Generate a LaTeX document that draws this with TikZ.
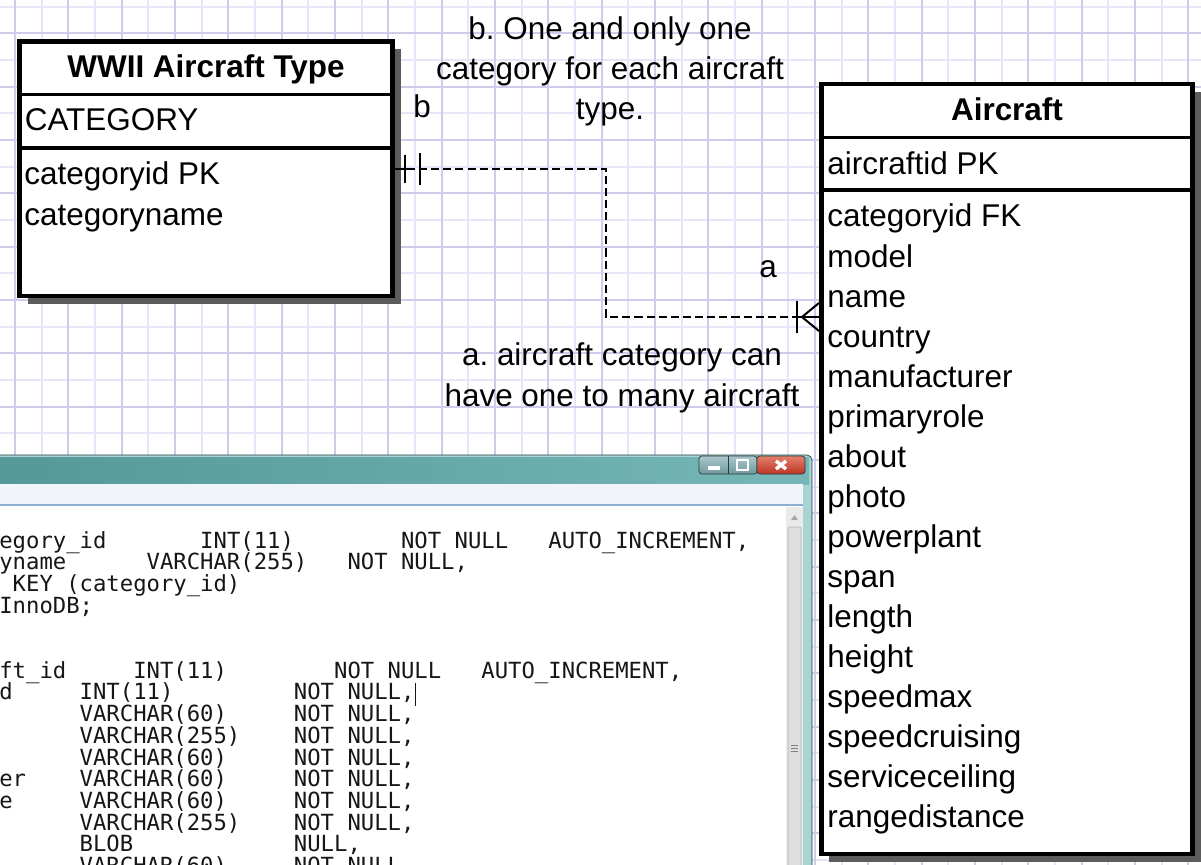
\documentclass[tikz,border=0pt]{standalone}
\usepackage{fontspec}
\setmainfont{Liberation Sans}
\newfontfamily\sqlfont{DejaVu Sans Mono}
\usetikzlibrary{positioning,calc,shadows}
\frenchspacing

\newdimen\px
\px=0.02cm

\definecolor{gridmajor}{RGB}{206,204,237}
\definecolor{gridminor}{RGB}{230,230,248}
\definecolor{boxshadow}{RGB}{92,92,92}
\definecolor{winframe}{RGB}{168,212,212}
\definecolor{wintitletop}{RGB}{118,182,182}
\definecolor{wintitlebottom}{RGB}{84,152,154}
\definecolor{winedge}{RGB}{40,60,62}
\definecolor{winbar}{RGB}{241,245,250}
\definecolor{winbarline}{RGB}{140,175,210}
\definecolor{scrolltrack}{RGB}{234,234,234}
\definecolor{scrollthumb}{RGB}{222,222,222}
\definecolor{closetop}{RGB}{226,128,108}
\definecolor{closebottom}{RGB}{192,52,36}
\definecolor{btntop}{RGB}{170,200,204}
\definecolor{btnbottom}{RGB}{112,152,158}
\definecolor{sqlink}{RGB}{22,22,22}

\newcommand\ersize{\fontsize{17.9pt}{22.8pt}\selectfont}
\newcommand\sqlsize{\fontsize{12.66pt}{12.3pt}\selectfont}

\tikzset{
  gridmajorline/.style={gridmajor, line width=1.2pt},
  gridminorline/.style={gridminor, line width=1pt},
  entity/.style={draw, line width=2.6pt, fill=white, inner sep=0pt,
    drop shadow={shadow xshift=8\px, shadow yshift=-8\px, fill=boxshadow, opacity=1}},
  separator/.style={line width=2pt},
  entitytitle/.style={anchor=base, inner sep=0pt, font=\ersize\bfseries},
  attr/.style={anchor=base west, inner sep=0pt, font=\ersize},
  note/.style={inner sep=0pt, align=center, font=\ersize},
  relline/.style={line width=1.15pt, dash pattern=on 4.6pt off 2.3pt},
  markline/.style={line width=1.15pt},
  sqlline/.style={anchor=base west, inner sep=0pt, font=\sqlfont\sqlsize, text=sqlink},
}

\begin{document}
\begin{tikzpicture}[x=\px, y=-\px]
    \useasboundingbox (0,0) rectangle (1201,865);
    \clip (0,0) rectangle (1201,865);

    \foreach \k in {0,...,22} {
        \draw[gridminorline] (41.667+53.333*\k,0) -- ++(0,865);
        \draw[gridminorline] (0,6.667+53.333*\k) -- ++(1201,0);
    }
    \foreach \k in {0,...,22} {
        \draw[gridmajorline] (15+53.333*\k,0) -- ++(0,865);
        \draw[gridmajorline] (0,33.333+53.333*\k) -- ++(1201,0);
    }

    \node[entity, minimum width=373\px, minimum height=254.5\px] at (206,168.75) (type) {};
    \node[entity, minimum width=371.5\px, minimum height=770\px] at (1007,469) (aircraft) {};

    \draw[separator] (type.west |- 0,94.5) -- (type.east |- 0,94.5);
    \draw[separator] (type.west |- 0,148) -- (type.east |- 0,148);
    \draw[separator] (aircraft.west |- 0,137.5) -- (aircraft.east |- 0,137.5);
    \draw[separator] (aircraft.west |- 0,190) -- (aircraft.east |- 0,190);

    \node[entitytitle] at (206,78) (typetitle) {WWII Aircraft Type};
    \node[attr] at (24.5,131) (typekey) {CATEGORY};
    \node[attr] at (24,185) (typeattr1) {categoryid PK};
    \node[attr] at (24,225) (typeattr2) {categoryname};

    \node[entitytitle] at (1007,121) (aircrafttitle) {Aircraft};
    \node[attr] at (827,174) (aircraftkey) {aircraftid PK};
    \foreach \a [count=\n] in {categoryid FK, model, name, country, manufacturer,
        primaryrole, about, photo, powerplant, span, length, height, speedmax,
        speedcruising, serviceceiling, rangedistance}
        \node[attr] at (827,187+40*\n) (aircraftattr\n) {\a};

    \coordinate (elbow) at (606,317);
    \coordinate (manyend) at (aircraft.west |- elbow);
    \draw[relline] (type.east) -| (elbow) -- (manyend);
    \draw[markline] (type.east) -- ++(12,0);
    \draw[markline] ([shift={(10,-14)}]type.east) -- ++(0,28);
    \draw[markline] ([shift={(25,-16)}]type.east) -- ++(0,32);
    \draw[markline] ([shift={(-24,0)}]manyend) -- (manyend);
    \draw[markline] ([shift={(-22,-16)}]manyend) -- ++(0,32);
    \draw[markline] ([shift={(0,-14)}]manyend) -- ([shift={(-17,0)}]manyend) -- ([shift={(0,14)}]manyend);

    \node[attr] at (413,118) (bmark) {b};
    \node[attr] at (759,277) (amark) {a};
    \node[note, anchor=base] at (610,120) (typenote) {b. One and only one\\category for each aircraft\\type.};
    \node[note, anchor=base] at (622,406) (aircraftnote) {a. aircraft category can\\have one to many aircraft};

    \draw[winedge, fill=winframe, rounded corners=5\px] (-20,455) rectangle (812,890);
    \shade[left color=wintitlebottom, right color=wintitletop] (-20,457) rectangle (809,484);
    \fill[winbar] (-20,484) rectangle (803,505);
    \draw[winbarline, line width=0.8pt] (-20,505) -- (803,505);
    \fill[white] (-20,506) rectangle (803,890);
    \fill[scrolltrack] (786,507) rectangle (803,890);
    \fill[gray!70] (791,520) -- (798,520) -- (794.5,515) -- cycle;
    \draw[gray!60, fill=scrollthumb, rounded corners=2\px] (788,527) rectangle (801,890);
    \foreach \g in {745,748,751}
        \draw[gray] (791,\g) -- (798,\g);

    \draw[winedge, top color=btntop, bottom color=btnbottom, rounded corners=3\px] (699,456) rectangle (757,474);
    \draw[winedge] (728,456) -- (728,474);
    \fill[white] (708,466) rectangle (720,470);
    \draw[white, line width=1pt] (737,460) rectangle (748,470);
    \draw[winedge, top color=closetop, bottom color=closebottom, rounded corners=3\px] (757,456) rectangle (805,474);
    \draw[white, line width=2pt] (776,461) -- (786,469) (776,469) -- (786,461);

    \foreach \y/\code [count=\n] in {
        548/{egory\_id~~~~~~~INT(11)~~~~~~~~NOT~NULL~~~AUTO\_INCREMENT,},
        569.7/{yname~~~~~~VARCHAR(255)~~~NOT~NULL,},
        591.4/{~KEY~(category\_id)},
        613.1/{InnoDB;},
        678.2/{ft\_id~~~~~INT(11)~~~~~~~~NOT~NULL~~~AUTO\_INCREMENT,},
        699.9/{d~~~~~INT(11)~~~~~~~~~NOT~NULL,},
        721.6/{~~~~~~VARCHAR(60)~~~~~NOT~NULL,},
        743.3/{~~~~~~VARCHAR(255)~~~~NOT~NULL,},
        765/{~~~~~~VARCHAR(60)~~~~~NOT~NULL,},
        786.7/{er~~~~VARCHAR(60)~~~~~NOT~NULL,},
        808.4/{e~~~~~VARCHAR(60)~~~~~NOT~NULL,},
        830.1/{~~~~~~VARCHAR(255)~~~~NOT~NULL,},
        851.8/{~~~~~~BLOB~~~~~~~~~~~~NULL,},
        873.5/{~~~~~~VARCHAR(60)~~~~~NOT~NULL}}
        \node[sqlline] at (-1,\y) (sql\n) {\code};
    \draw[sqlink, line width=0.6pt] ([shift={(1,-17)}]sql6.base east) -- ++(0,23);
\end{tikzpicture}
\end{document}
